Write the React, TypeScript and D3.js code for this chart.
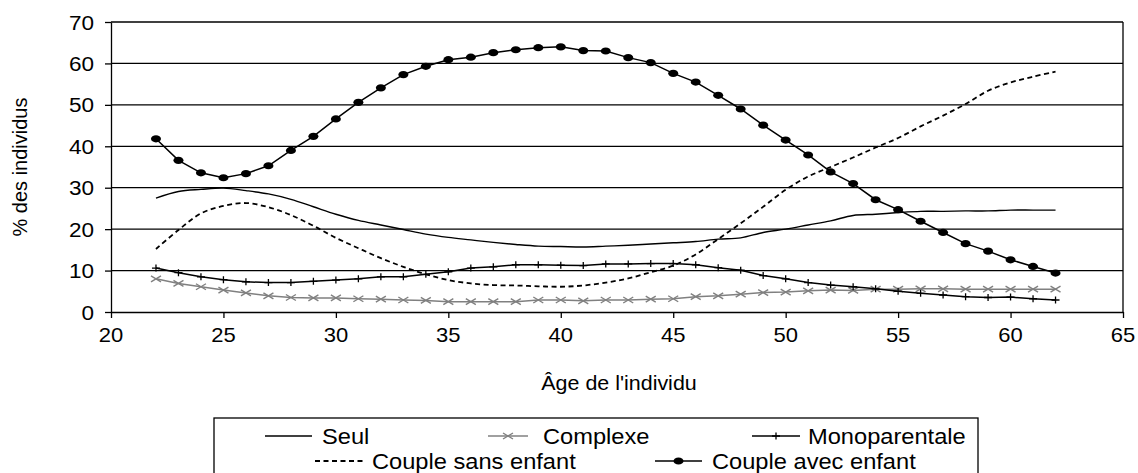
import React, { useEffect, useRef } from 'react';
import * as d3 from 'd3';

const ages = [22, 23, 24, 25, 26, 27, 28, 29, 30, 31, 32, 33, 34, 35, 36, 37, 38, 39, 40, 41,
  42, 43, 44, 45, 46, 47, 48, 49, 50, 51, 52, 53, 54, 55, 56, 57, 58, 59, 60, 61, 62];

const seul = [27.5, 29.1, 29.6, 29.9, 29.3, 28.5, 27.2, 25.4, 23.6, 22.1,
  21.0, 19.9, 18.8, 18.0, 17.4, 16.8, 16.3, 15.9, 15.8, 15.7,
  15.9, 16.1, 16.4, 16.7, 17.0, 17.6, 17.9, 19.2, 20.0, 21.0,
  22.0, 23.3, 23.6, 24.0, 24.3, 24.3, 24.4, 24.4, 24.6, 24.6, 24.6];

const complexe = [8.0, 6.9, 6.1, 5.3, 4.6, 3.9, 3.5, 3.4, 3.4, 3.2,
  3.1, 2.9, 2.8, 2.5, 2.5, 2.5, 2.5, 2.9, 2.9, 2.7,
  2.9, 2.9, 3.1, 3.2, 3.7, 3.9, 4.3, 4.7, 4.8, 5.1,
  5.3, 5.2, 5.5, 5.5, 5.6, 5.6, 5.5, 5.5, 5.5, 5.5, 5.5];

const monoparentale = [10.6, 9.5, 8.5, 7.8, 7.3, 7.1, 7.1, 7.4, 7.7, 8.0,
  8.5, 8.5, 9.1, 9.7, 10.6, 10.9, 11.4, 11.4, 11.3, 11.2,
  11.6, 11.6, 11.7, 11.7, 11.4, 10.7, 10.1, 8.8, 8.0, 7.1,
  6.5, 6.1, 5.6, 5.0, 4.5, 4.1, 3.7, 3.5, 3.6, 3.2, 2.9];

const coupleSans = [15.2, 19.8, 23.8, 25.6, 26.3, 25.3, 23.4, 20.8, 17.9, 15.4,
  13.0, 10.9, 9.1, 7.7, 6.9, 6.5, 6.4, 6.2, 6.1, 6.4,
  7.1, 8.1, 9.6, 11.2, 13.9, 17.6, 21.4, 25.4, 29.5, 32.7,
  35.0, 37.3, 39.7, 42.0, 44.8, 47.4, 50.2, 53.4, 55.4, 56.8, 58.0];

const coupleAvec = [41.8, 36.6, 33.6, 32.4, 33.4, 35.3, 39.0, 42.4, 46.6, 50.6,
  54.1, 57.3, 59.3, 60.9, 61.5, 62.6, 63.3, 63.8, 64.0, 63.1,
  63.0, 61.4, 60.2, 57.6, 55.5, 52.3, 49.0, 45.1, 41.5, 37.9,
  33.8, 31.0, 27.1, 24.7, 21.9, 19.2, 16.5, 14.7, 12.6, 11.0, 9.4];

const xTicks = [20, 25, 30, 35, 40, 45, 50, 55, 60, 65];
const yTicks = [0, 10, 20, 30, 40, 50, 60, 70];

const FONT = '"Liberation Sans", Arial, Helvetica, sans-serif';
const SX = 1.1; // the original picture is a little stretched sideways

const Chart = () => {
  const svgRef = useRef();

  useEffect(() => {
    const svg = d3.select(svgRef.current);
    svg.selectAll('*').remove();

    const xScale = d3.scaleLinear().domain([20, 65]).range([111, 1123]);
    const yScale = d3.scaleLinear().domain([0, 70]).range([312, 22]);

    // stretched text helper
    const addText = (g, x, y, str, size, anchor) => {
      g.append('g')
        .attr('transform', `translate(${x},${y}) scale(${SX},1)`)
        .append('text')
        .attr('text-anchor', anchor)
        .attr('font-family', FONT)
        .attr('font-size', size)
        .attr('fill', '#000')
        .text(str);
    };

    // gridlines
    svg.append('g').selectAll('line')
      .data(yTicks.filter(d => d > 0))
      .enter().append('line')
      .attr('x1', xScale(20)).attr('x2', xScale(65))
      .attr('y1', d => yScale(d)).attr('y2', d => yScale(d))
      .attr('stroke', '#000').attr('stroke-width', 1.3);

    // right border
    svg.append('line')
      .attr('x1', xScale(65)).attr('x2', xScale(65))
      .attr('y1', yScale(70)).attr('y2', yScale(0))
      .attr('stroke', '#000').attr('stroke-width', 1.3);

    // x axis
    const xAxis = svg.append('g')
      .attr('transform', `translate(0,${yScale(0)})`)
      .call(d3.axisBottom(xScale).tickValues(xTicks).tickSize(6).tickSizeOuter(0).tickFormat(''));
    xAxis.selectAll('path, line').attr('stroke', '#000').attr('stroke-width', 1.3);
    xTicks.forEach(t => addText(svg, xScale(t), 342, String(t), 20, 'middle'));

    // y axis
    const yAxis = svg.append('g')
      .attr('transform', `translate(${xScale(20)},0)`)
      .call(d3.axisLeft(yScale).tickValues(yTicks).tickSize(6).tickSizeOuter(0).tickFormat(''));
    yAxis.selectAll('path, line').attr('stroke', '#000').attr('stroke-width', 1.3);
    yTicks.forEach(t => addText(svg, 94, yScale(t) + 7.5, String(t), 20.5, 'end'));

    // axis titles
    addText(svg, 619, 390, "Âge de l'individu", 19.5, 'middle');
    svg.append('text')
      .attr('transform', `translate(27,${(yScale(0) + yScale(70)) / 2}) rotate(-90)`)
      .attr('text-anchor', 'middle')
      .attr('font-family', FONT)
      .attr('font-size', 20)
      .attr('fill', '#000')
      .text('% des individus');

    const pts = vals => ages.map((a, i) => [a, vals[i]]);
    const smooth = d3.line().x(d => xScale(d[0])).y(d => yScale(d[1])).curve(d3.curveCatmullRom);
    const straight = d3.line().x(d => xScale(d[0])).y(d => yScale(d[1]));

    // Complexe
    svg.append('path').datum(pts(complexe)).attr('d', straight)
      .attr('fill', 'none').attr('stroke', '#808080').attr('stroke-width', 1.5);
    const crossMark = (g, cx, cy, color) => {
      g.append('path')
        .attr('d', `M${cx - 5},${cy - 3}L${cx + 5},${cy + 3}M${cx - 5},${cy + 3}L${cx + 5},${cy - 3}`)
        .attr('stroke', color).attr('stroke-width', 1.4).attr('fill', 'none');
    };
    pts(complexe).forEach(d => crossMark(svg, xScale(d[0]), yScale(d[1]), '#808080'));

    // Monoparentale
    svg.append('path').datum(pts(monoparentale)).attr('d', straight)
      .attr('fill', 'none').attr('stroke', '#000').attr('stroke-width', 1.5);
    const plusMark = (g, cx, cy) => {
      g.append('path')
        .attr('d', `M${cx},${cy - 3.5}L${cx},${cy + 3.5}M${cx - 4},${cy}L${cx + 4},${cy}`)
        .attr('stroke', '#000').attr('stroke-width', 1.3).attr('fill', 'none');
    };
    pts(monoparentale).forEach(d => plusMark(svg, xScale(d[0]), yScale(d[1])));

    // Seul
    svg.append('path').datum(pts(seul)).attr('d', smooth)
      .attr('fill', 'none').attr('stroke', '#000').attr('stroke-width', 1.4);

    // Couple sans enfant
    svg.append('path').datum(pts(coupleSans)).attr('d', smooth)
      .attr('fill', 'none').attr('stroke', '#000').attr('stroke-width', 1.8)
      .attr('stroke-dasharray', '5,3.5');

    // Couple avec enfant
    svg.append('path').datum(pts(coupleAvec)).attr('d', straight)
      .attr('fill', 'none').attr('stroke', '#000').attr('stroke-width', 1.5);
    const dotMark = (g, cx, cy) => {
      g.append('ellipse').attr('cx', cx).attr('cy', cy).attr('rx', 5).attr('ry', 3.6).attr('fill', '#000');
    };
    pts(coupleAvec).forEach(d => dotMark(svg, xScale(d[0]), yScale(d[1])));

    // legend
    const legend = svg.append('g');
    legend.append('rect')
      .attr('x', 214).attr('y', 418).attr('width', 764).attr('height', 64)
      .attr('fill', '#fff').attr('stroke', '#000').attr('stroke-width', 1.3);

    const row1 = 436;
    const row2 = 461;
    const items = [
      { label: 'Seul', x0: 265, x1: 312, tx: 322, y: row1, kind: 'seul' },
      { label: 'Complexe', x0: 488, x1: 528, tx: 543, y: row1, kind: 'complexe' },
      { label: 'Monoparentale', x0: 752, x1: 800, tx: 808, y: row1, kind: 'mono' },
      { label: 'Couple sans enfant', x0: 315, x1: 363, tx: 372, y: row2, kind: 'sans' },
      { label: 'Couple avec enfant', x0: 655, x1: 702, tx: 712, y: row2, kind: 'avec' },
    ];
    items.forEach(it => {
      const ln = legend.append('line')
        .attr('x1', it.x0).attr('x2', it.x1).attr('y1', it.y).attr('y2', it.y)
        .attr('stroke', it.kind === 'complexe' ? '#808080' : '#000')
        .attr('stroke-width', it.kind === 'sans' ? 1.8 : 1.4);
      if (it.kind === 'sans') ln.attr('stroke-dasharray', '5,3.5');
      const mx = (it.x0 + it.x1) / 2;
      if (it.kind === 'complexe') crossMark(legend, mx, it.y, '#808080');
      if (it.kind === 'mono') plusMark(legend, mx, it.y);
      if (it.kind === 'avec') dotMark(legend, mx, it.y);
      addText(legend, it.tx, it.y + 8, it.label, 21.5, 'start');
    });
  }, []);

  return <svg ref={svgRef} width={1138} height={473} style={{ display: 'block' }}></svg>;
};

export default function App() {
  return (
    <div style={{ position: 'absolute', left: 0, top: 0, background: '#fff' }}>
      <Chart />
    </div>
  );
}
